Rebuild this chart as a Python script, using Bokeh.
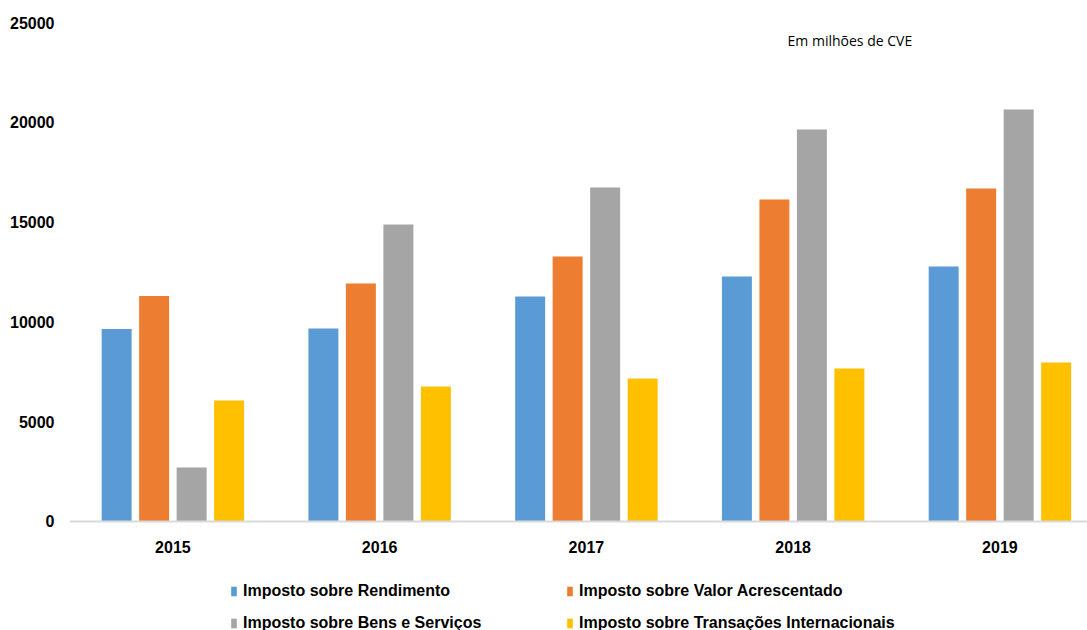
from bokeh.plotting import figure
from bokeh.models import ColumnDataSource, Range1d, Legend, LegendItem, Label, FixedTicker
from bokeh.embed import file_html
from bokeh.resources import INLINE

years = ["2015", "2016", "2017", "2018", "2019"]
rendimento = [9650, 9670, 11270, 12270, 12780]
valor_acrescentado = [11300, 11920, 13280, 16130, 16680]
bens_servicos = [2700, 14880, 16730, 19640, 20640]
transacoes = [6060, 6760, 7160, 7670, 7970]

series_names = [
    "Imposto sobre Rendimento",
    "Imposto sobre Valor Acrescentado",
    "Imposto sobre Bens e Serviços",
    "Imposto sobre Transações Internacionais",
]
series_values = [rendimento, valor_acrescentado, bens_servicos, transacoes]
colors = ["#5B9BD5", "#ED7D31", "#A5A5A5", "#FFC000"]
offsets = [-0.272, -0.0907, 0.0907, 0.272]

p = figure(width=1087, height=630, output_backend="svg", toolbar_location=None,
           x_range=Range1d(-0.5, 4.4236), y_range=Range1d(-5461, 25000),
           min_border_left=69, min_border_right=0, min_border_top=22, min_border_bottom=0)
p.outline_line_color = None
p.xgrid.visible = False
p.ygrid.visible = False

renderers = []
idx = list(range(len(years)))
for name, vals, col, off in zip(series_names, series_values, colors, offsets):
    src = ColumnDataSource(dict(x=[i + off for i in idx], top=vals))
    r = p.vbar(x="x", top="top", width=0.145, bottom=0, source=src,
               fill_color=col, line_color=None)
    renderers.append((name, r))

p.xaxis.fixed_location = 0
p.xaxis.ticker = FixedTicker(ticks=idx)
p.xaxis.major_label_overrides = {i: y for i, y in zip(idx, years)}
p.xaxis.axis_line_color = "#D9D9D9"
p.xaxis.axis_line_width = 2
p.xaxis.major_tick_line_color = None
p.xaxis.minor_tick_line_color = None
p.xaxis.major_label_text_font = "Liberation Sans"
p.xaxis.major_label_text_font_style = "bold"
p.xaxis.major_label_text_font_size = "16px"
p.xaxis.major_label_text_color = "#000000"
p.xaxis.major_label_standoff = 14

p.yaxis.ticker = FixedTicker(ticks=[0, 5000, 10000, 15000, 20000, 25000])
p.yaxis.axis_line_color = None
p.yaxis.major_tick_line_color = None
p.yaxis.minor_tick_line_color = None
p.yaxis.major_label_text_font = "Liberation Sans"
p.yaxis.major_label_text_font_style = "bold"
p.yaxis.major_label_text_font_size = "16px"
p.yaxis.major_label_text_color = "#000000"
p.yaxis.major_label_standoff = 9

p.add_layout(Label(x=2.973, y=24100, text="Em milhões de CVE", text_font="Open Sans",
                   text_font_size="14px", text_color="#000000", text_baseline="middle"))

# legend is filled column by column: order so rows read as in the reference
order = [0, 2, 1, 3]
legend = Legend(items=[LegendItem(label=renderers[k][0], renderers=[renderers[k][1]]) for k in order],
                ncols=2, location=(161, -2), padding=0, margin=0, spacing=14,
                glyph_width=7, glyph_height=12, label_standoff=6, label_width=309,
                label_text_font="Liberation Sans", label_text_font_style="bold",
                label_text_font_size="16px", label_text_color="#000000",
                border_line_color=None, background_fill_alpha=0)
p.add_layout(legend)

open("out.html", "w").write(file_html(p, INLINE))
